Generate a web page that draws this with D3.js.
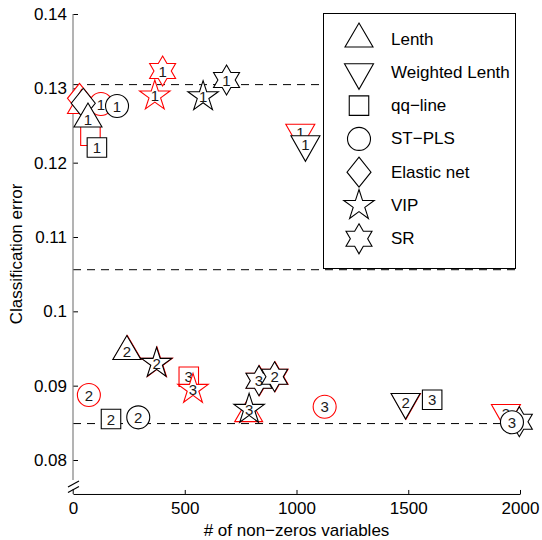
<!DOCTYPE html>
<html>
<head>
<meta charset="utf-8">
<script src="https://cdn.jsdelivr.net/npm/d3@7"></script>
<style>
  body { margin: 0; background: #fff; }
  svg { display: block; }
  text { font-family: "Liberation Sans", Arial, Helvetica, sans-serif; }
</style>
</head>
<body>
<svg id="chart" width="542" height="540"></svg>
<script>
// ---- data ----
const methods = ["Lenth", "Weighted Lenth", "qq\u2212line", "ST\u2212PLS", "Elastic net", "VIP", "SR"];

// one entry per plotted marker, in drawing order (variant 0 first, then variant 1)
const pointMethod = [
  "Elastic net", "Lenth", "Lenth", "Lenth",
  "Weighted Lenth", "Weighted Lenth", "Weighted Lenth",
  "qq\u2212line", "qq\u2212line",
  "ST\u2212PLS", "ST\u2212PLS", "ST\u2212PLS",
  "VIP", "VIP", "VIP",
  "SR", "SR", "SR",
  "Elastic net", "Lenth", "Lenth",
  "Weighted Lenth", "Weighted Lenth",
  "qq\u2212line", "qq\u2212line", "qq\u2212line",
  "VIP", "VIP", "VIP",
  "SR", "SR", "SR", "SR",
  "ST\u2212PLS", "ST\u2212PLS", "ST\u2212PLS"
];
const pointVariant = [
  0, 0, 0, 0,
  0, 0, 0,
  0, 0,
  0, 0, 0,
  0, 0, 0,
  0, 0, 0,
  1, 1, 1,
  1, 1,
  1, 1, 1,
  1, 1, 1,
  1, 1, 1, 1,
  1, 1, 1
];
// tags drawn inside the markers ("" where no tag is printed)
const pointLabel = [
  "", "1", "", "",
  "1", "", "3",
  "", "3",
  "1", "2", "3",
  "1", "", "3",
  "1", "", "",
  "", "1", "2",
  "1", "2",
  "1", "2", "3",
  "1", "2", "3",
  "1", "3", "2", "3",
  "1", "2", "3"
];
const pointVars = [
  29, 38, 243, 786,
  1017, 1490, 1937,
  78, 518,
  125, 71, 1126,
  366, 376, 537,
  401, 834, 904,
  46, 67, 241,
  1040, 1488,
  107, 170, 1607,
  582, 374, 788,
  687, 832, 902, 1997,
  197, 292, 1964
];
const pointError = [
  0.12866, 0.12769, 0.09459, 0.08624,
  0.12403, 0.08780, 0.08632,
  0.12363, 0.09120,
  0.12789, 0.08874, 0.08717,
  0.12897, 0.09301, 0.08951,
  0.13233, 0.09067, 0.09120,
  0.12799, 0.12587, 0.09459,
  0.12247, 0.08780,
  0.12204, 0.08551, 0.08811,
  0.12888, 0.09301, 0.08682,
  0.13112, 0.09067, 0.09120, 0.08515,
  0.12762, 0.08574, 0.08507
];

// dashed reference levels
const refLevels = [0.1305, 0.1056, 0.0849];

// axes
const xTicks = [0, 500, 1000, 1500, 2000];
const xTickLabels = ["0", "500", "1000", "1500", "2000"];
const yTicks = [0.08, 0.09, 0.10, 0.11, 0.12, 0.13, 0.14];
const yTickLabels = ["0.08", "0.09", "0.1", "0.11", "0.12", "0.13", "0.14"];
const xDomain = [0, 2000];
const yDomain = [0.08, 0.14];
const yFloor = 0.07543;   // value where the broken y axis meets the x axis

// ---- style ----
const variantColor = ["#ff0000", "#000000"];
const labelColor = "#1a1a1a";
const fontMain = 17;
const fontMark = 15;

// marker outlines, centred on the data point
function starPath(n, R, r, start) {
  const pts = [];
  for (let k = 0; k < 2 * n; k++) {
    const a = start + k * Math.PI / n;
    const rad = k % 2 === 0 ? R : r;
    pts.push([rad * Math.cos(a), rad * Math.sin(a)]);
  }
  return "M" + pts.map(p => p[0].toFixed(2) + "," + p[1].toFixed(2)).join("L") + "Z";
}
const shapes = {
  "Lenth": "M0,-16L14,8L-14,8Z",
  "Weighted Lenth": "M-14.5,-8.5L14.5,-8.5L0,17Z",
  "qq\u2212line": "M-9.75,-9.75H9.75V9.75H-9.75Z",
  "ST\u2212PLS": "M-11.5,0A11.5,11.5 0 1,0 11.5,0A11.5,11.5 0 1,0 -11.5,0Z",
  "Elastic net": "M0,-15L12,0L0,15L-12,0Z",
  "VIP": starPath(5, 16, 16 * 0.382, -Math.PI / 2),
  "SR": starPath(6, 15, 15 / Math.sqrt(3), -Math.PI / 2)
};

// ---- chart ----
const svg = d3.select("#chart");
const x = d3.scaleLinear().domain(xDomain).range([73, 520]);
const y = d3.scaleLinear().domain(yDomain).range([460, 14]);
const yBase = y(yFloor);

// dashed reference lines
svg.append("g")
  .selectAll("line")
  .data(refLevels)
  .join("line")
  .attr("x1", x(xDomain[0])).attr("x2", x(xDomain[1]))
  .attr("y1", d => y(d)).attr("y2", d => y(d))
  .attr("stroke", "#000")
  .attr("stroke-width", 1)
  .attr("stroke-dasharray", "8,6");

// x axis
const gx = svg.append("g")
  .attr("transform", `translate(0,${yBase})`)
  .call(d3.axisBottom(x)
    .tickValues(xTicks)
    .tickFormat((d, i) => xTickLabels[i])
    .tickSizeInner(-4)
    .tickSizeOuter(0)
    .tickPadding(8));
gx.attr("font-size", fontMain).attr("font-family", null);
gx.selectAll("text").attr("fill", "#000");

// y axis (ticks and labels; spine drawn separately to show the break)
const gy = svg.append("g")
  .attr("transform", `translate(${x(0)},0)`)
  .call(d3.axisLeft(y)
    .tickValues(yTicks)
    .tickFormat((d, i) => yTickLabels[i])
    .tickSizeInner(-5)
    .tickSizeOuter(0)
    .tickPadding(6));
gy.attr("font-size", fontMain).attr("font-family", null);
gy.select(".domain").remove();
gy.selectAll("text").attr("fill", "#000");

const x0 = x(0);
svg.append("line")
  .attr("x1", x0).attr("x2", x0)
  .attr("y1", y(yDomain[1])).attr("y2", yBase - 14)
  .attr("stroke", "#808080").attr("stroke-width", 1.2);
svg.append("line")
  .attr("x1", x0).attr("x2", x0)
  .attr("y1", yBase - 5).attr("y2", yBase)
  .attr("stroke", "#808080").attr("stroke-width", 1.2);
[0, 5.5].forEach(off => {
  svg.append("line")
    .attr("x1", x0 - 5).attr("y1", yBase - 7 + off)
    .attr("x2", x0 + 6).attr("y2", yBase - 13 + off)
    .attr("stroke", "#000").attr("stroke-width", 1.2);
});

// axis titles
svg.append("text")
  .attr("x", (x(xDomain[0]) + x(xDomain[1])) / 2)
  .attr("y", 530)
  .attr("text-anchor", "middle")
  .attr("dominant-baseline", "central")
  .attr("font-size", fontMain)
  .text("# of non\u2212zeros variables");
svg.append("text")
  .attr("transform", `translate(16,${(y(yDomain[1]) + yBase) / 2}) rotate(-90)`)
  .attr("text-anchor", "middle")
  .attr("dominant-baseline", "central")
  .attr("font-size", fontMain)
  .text("Classification error");

// markers with their numeric tags
const points = pointVars.map((v, i) => ({
  method: pointMethod[i], variant: pointVariant[i], label: pointLabel[i],
  vars: v, err: pointError[i]
}));
const marks = svg.append("g")
  .selectAll("g")
  .data(points)
  .join("g")
  .attr("transform", d => `translate(${x(d.vars)},${y(d.err)})`);
marks.append("path")
  .attr("d", d => shapes[d.method])
  .attr("fill", "#fff")
  .attr("stroke", d => variantColor[d.variant])
  .attr("stroke-width", 1.1)
  .attr("stroke-linejoin", "miter");
marks.filter(d => d.label !== "")
  .append("text")
  .attr("text-anchor", "middle")
  .attr("dominant-baseline", "central")
  .attr("font-size", fontMark)
  .attr("fill", labelColor)
  .text(d => d.label);

// legend
const legend = svg.append("g");
legend.append("rect")
  .attr("x", 323.5).attr("y", 13.5)
  .attr("width", 192).attr("height", 255)
  .attr("fill", "#fff").attr("stroke", "#000").attr("stroke-width", 1);
const rows = legend.selectAll("g.row")
  .data(methods)
  .join("g")
  .attr("class", "row")
  .attr("transform", (d, i) => `translate(359,${39 + i * 33.3})`);
rows.append("path")
  .attr("d", d => shapes[d])
  .attr("fill", "#fff")
  .attr("stroke", "#000")
  .attr("stroke-width", 1.1);
rows.append("text")
  .attr("x", 32)
  .attr("dominant-baseline", "central")
  .attr("font-size", fontMain)
  .text(d => d);
</script>
</body>
</html>
